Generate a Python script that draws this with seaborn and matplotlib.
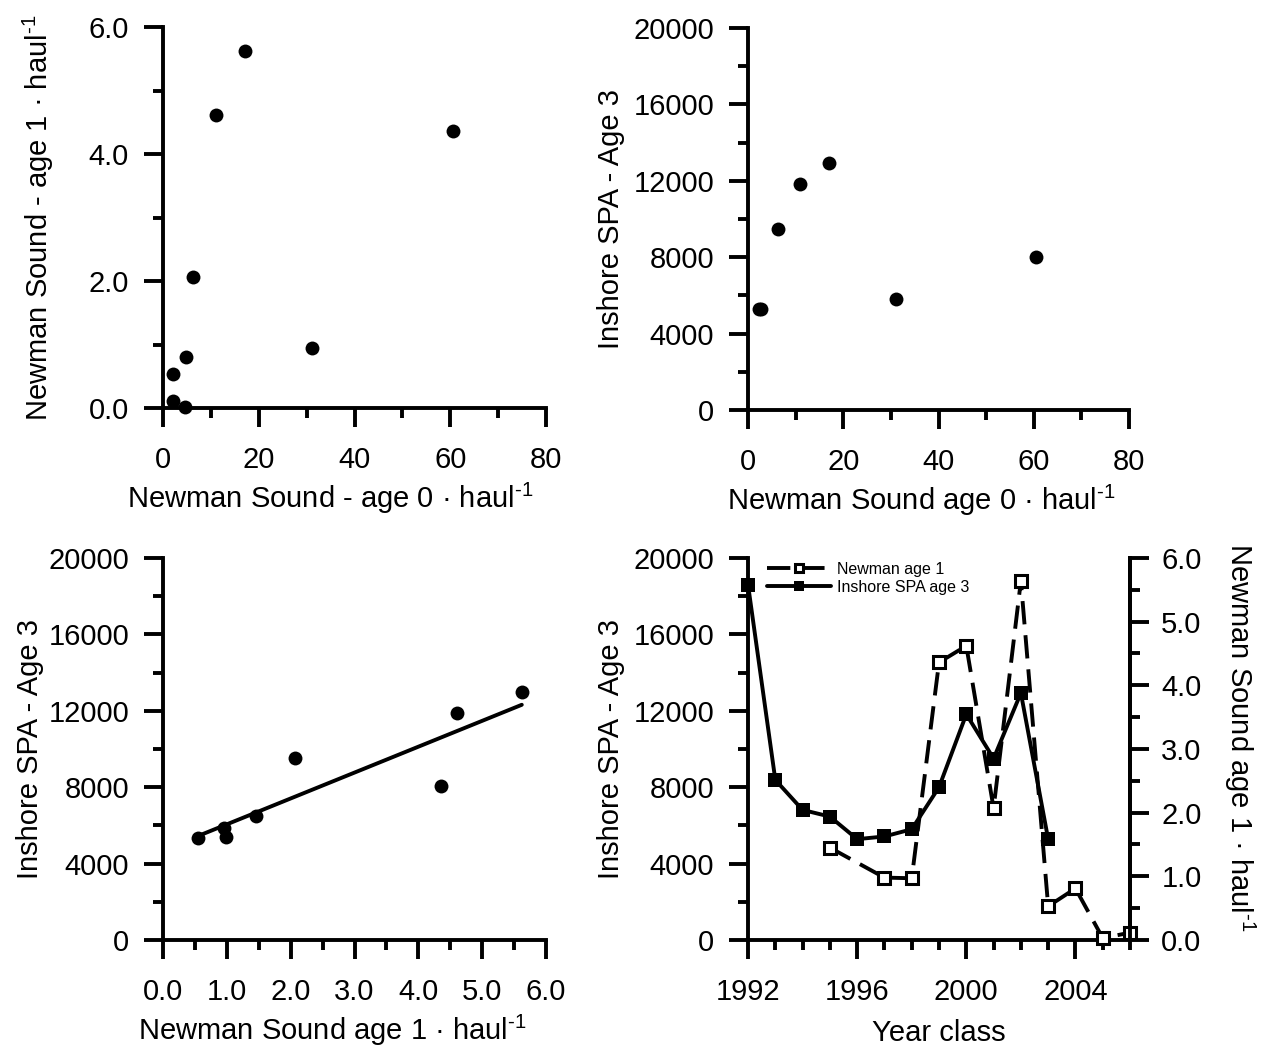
import matplotlib
matplotlib.use("Agg")
import matplotlib.pyplot as plt
import seaborn as sns
from matplotlib.ticker import MultipleLocator, FormatStrFormatter

# --- Data ---
# top left: Newman Sound age 0 vs age 1 (per haul)
age0_a = [17.2, 11.1, 60.5, 6.27, 31.1, 4.88, 2.1, 2.1, 4.67]
age1_a = [5.63, 4.61, 4.37, 2.07, 0.95, 0.80, 0.53, 0.105, 0.02]

# top right: Newman Sound age 0 vs inshore SPA age 3
age0_b = [2.3, 2.8, 6.2, 10.95, 17.05, 31.1, 60.5]
spa3_b = [5290, 5290, 9490, 11820, 12940, 5810, 8020]

# bottom left: Newman Sound age 1 vs inshore SPA age 3
age1_c = [0.54, 0.96, 0.99, 1.45, 2.07, 4.36, 4.61, 5.62]
spa3_c = [5320, 5880, 5400, 6490, 9520, 8060, 11860, 12990]

# bottom right: time series by year class
spa_years = [1992, 1993, 1994, 1995, 1996, 1997, 1998, 1999, 2000, 2001, 2002, 2003]
spa_age3 = [18600, 8380, 6810, 6460, 5280, 5420, 5800, 8000, 11820, 9500, 12930, 5280]
newman_years = [1995, 1997, 1998, 1999, 2000, 2001, 2002, 2003, 2004, 2005, 2006]
newman_age1 = [1.45, 0.98, 0.97, 4.36, 4.62, 2.07, 5.64, 0.53, 0.81, 0.03, 0.115]

# --- Style ---
sns.set_theme(style="ticks")
plt.rcParams["font.family"] = ["Liberation Sans", "DejaVu Sans"]
plt.rcParams["mathtext.fontset"] = "custom"
plt.rcParams["mathtext.rm"] = "Liberation Sans"
plt.rcParams["mathtext.default"] = "regular"
for key in ["text.color", "axes.labelcolor", "axes.edgecolor", "xtick.color", "ytick.color"]:
    plt.rcParams[key] = "black"

FS = 21
LW = 2.8
DOT = 100
PER_HAUL = r"haul$^{\text{-}1}$"


def style_axes(ax, right=False):
    for side in ["top", "right"]:
        ax.spines[side].set_visible(False)
    ax.spines["left"].set_linewidth(LW)
    ax.spines["bottom"].set_linewidth(LW)
    if right:
        ax.spines["right"].set_visible(True)
        ax.spines["right"].set_linewidth(LW)
    ax.tick_params(which="major", length=13.5, width=LW, color="black", labelsize=FS, labelcolor="black")
    ax.tick_params(which="minor", length=7, width=LW, color="black")
    ax.tick_params(axis="x", which="major", pad=14)
    ax.tick_params(axis="y", which="major", pad=11)
    ax.grid(False)


fig = plt.figure(figsize=(12.64, 10.49), dpi=100)
ax1 = fig.add_axes([0.129, 0.611, 0.303, 0.3632])
ax2 = fig.add_axes([0.5918, 0.6092, 0.3014, 0.3642])
ax3 = fig.add_axes([0.129, 0.1039, 0.303, 0.3642])
ax4 = fig.add_axes([0.5918, 0.1039, 0.3022, 0.3642])

# --- Top left ---
sns.scatterplot(x=age0_a, y=age1_a, ax=ax1, color="black", s=DOT, linewidth=0, clip_on=False, zorder=3)
ax1.set_xlim(0, 80)
ax1.set_ylim(0, 6)
ax1.xaxis.set_major_locator(MultipleLocator(20))
ax1.xaxis.set_minor_locator(MultipleLocator(10))
ax1.yaxis.set_major_locator(MultipleLocator(2))
ax1.yaxis.set_minor_locator(MultipleLocator(1))
ax1.yaxis.set_major_formatter(FormatStrFormatter("%.1f"))
style_axes(ax1)
ax1.set_xlabel("Newman Sound - age 0 · " + PER_HAUL, fontsize=FS, x=0.437, labelpad=5)
ax1.set_ylabel("Newman Sound - age 1 · " + PER_HAUL, fontsize=FS)
ax1.yaxis.set_label_coords(-0.28, 0.5)

# --- Top right ---
sns.scatterplot(x=age0_b, y=spa3_b, ax=ax2, color="black", s=DOT, linewidth=0, clip_on=False, zorder=3)
ax2.set_xlim(0, 80)
ax2.set_ylim(0, 20000)
ax2.xaxis.set_major_locator(MultipleLocator(20))
ax2.xaxis.set_minor_locator(MultipleLocator(10))
ax2.yaxis.set_major_locator(MultipleLocator(4000))
ax2.yaxis.set_minor_locator(MultipleLocator(2000))
style_axes(ax2)
ax2.set_xlabel("Newman Sound age 0 · " + PER_HAUL, fontsize=FS, x=0.455, labelpad=5)
ax2.set_ylabel("Inshore SPA - Age 3", fontsize=FS)
ax2.yaxis.set_label_coords(-0.323, 0.5)

# --- Bottom left ---
sns.regplot(x=age1_c, y=spa3_c, ax=ax3, ci=None, truncate=True,
            scatter_kws={"s": DOT, "color": "black", "linewidths": 0, "alpha": 1, "clip_on": False, "zorder": 3},
            line_kws={"color": "black", "lw": LW})
ax3.set_xlim(0, 6)
ax3.set_ylim(0, 20000)
ax3.xaxis.set_major_locator(MultipleLocator(1))
ax3.xaxis.set_minor_locator(MultipleLocator(0.5))
ax3.xaxis.set_major_formatter(FormatStrFormatter("%.1f"))
ax3.yaxis.set_major_locator(MultipleLocator(4000))
ax3.yaxis.set_minor_locator(MultipleLocator(2000))
style_axes(ax3)
ax3.set_xlabel("Newman Sound age 1 · " + PER_HAUL, fontsize=FS, x=0.443, labelpad=5)
ax3.set_ylabel("Inshore SPA - Age 3", fontsize=FS)
ax3.yaxis.set_label_coords(-0.312, 0.5)

# --- Bottom right: time series with twin axis ---
sns.lineplot(x=spa_years, y=spa_age3, ax=ax4, color="black", lw=LW, marker="s",
             markersize=9.5, markeredgewidth=0, errorbar=None, clip_on=False)
ax4.set_xlim(1992, 2006)
ax4.set_ylim(0, 20000)
ax4.xaxis.set_major_locator(MultipleLocator(4))
ax4.xaxis.set_minor_locator(MultipleLocator(1))
ax4.yaxis.set_major_locator(MultipleLocator(4000))
ax4.yaxis.set_minor_locator(MultipleLocator(2000))
style_axes(ax4, right=True)
ax4.set_xlabel("Year class", fontsize=FS, labelpad=9)
ax4.set_ylabel("Inshore SPA - Age 3", fontsize=FS)
ax4.yaxis.set_label_coords(-0.323, 0.5)

ax4r = ax4.twinx()
sns.lineplot(x=newman_years, y=newman_age1, ax=ax4r, color="black", lw=LW, marker="s",
             markersize=9, markerfacecolor="white", markeredgecolor="black", markeredgewidth=2.2,
             linestyle=(0, (6, 2.8)), errorbar=None, clip_on=False)
ax4r.set_ylim(0, 6)
ax4r.yaxis.set_major_locator(MultipleLocator(1))
ax4r.yaxis.set_minor_locator(MultipleLocator(0.5))
ax4r.yaxis.set_major_formatter(FormatStrFormatter("%.1f"))
for side in ["top", "left", "bottom"]:
    ax4r.spines[side].set_visible(False)
ax4r.spines["right"].set_linewidth(LW)
ax4r.tick_params(which="major", length=13.5, width=LW, color="black", labelsize=FS, pad=9)
ax4r.tick_params(which="minor", length=7, width=LW, color="black")
ax4r.grid(False)
ax4r.set_ylabel("Newman Sound age 1 · " + PER_HAUL, fontsize=FS, rotation=270, va="bottom")
ax4r.yaxis.set_label_coords(1.24, 0.53)

handles = [ax4r.lines[0], ax4.lines[0]]
ax4r.legend(handles, ["Newman age 1", "Inshore SPA age 3"], loc="upper left",
            bbox_to_anchor=(0.05, 0.99), frameon=False, fontsize=11.5, handlelength=4,
            handletextpad=0.4, labelspacing=0.2, borderaxespad=0, borderpad=0, markerscale=0.7)

fig.savefig("out.png", dpi=100)
